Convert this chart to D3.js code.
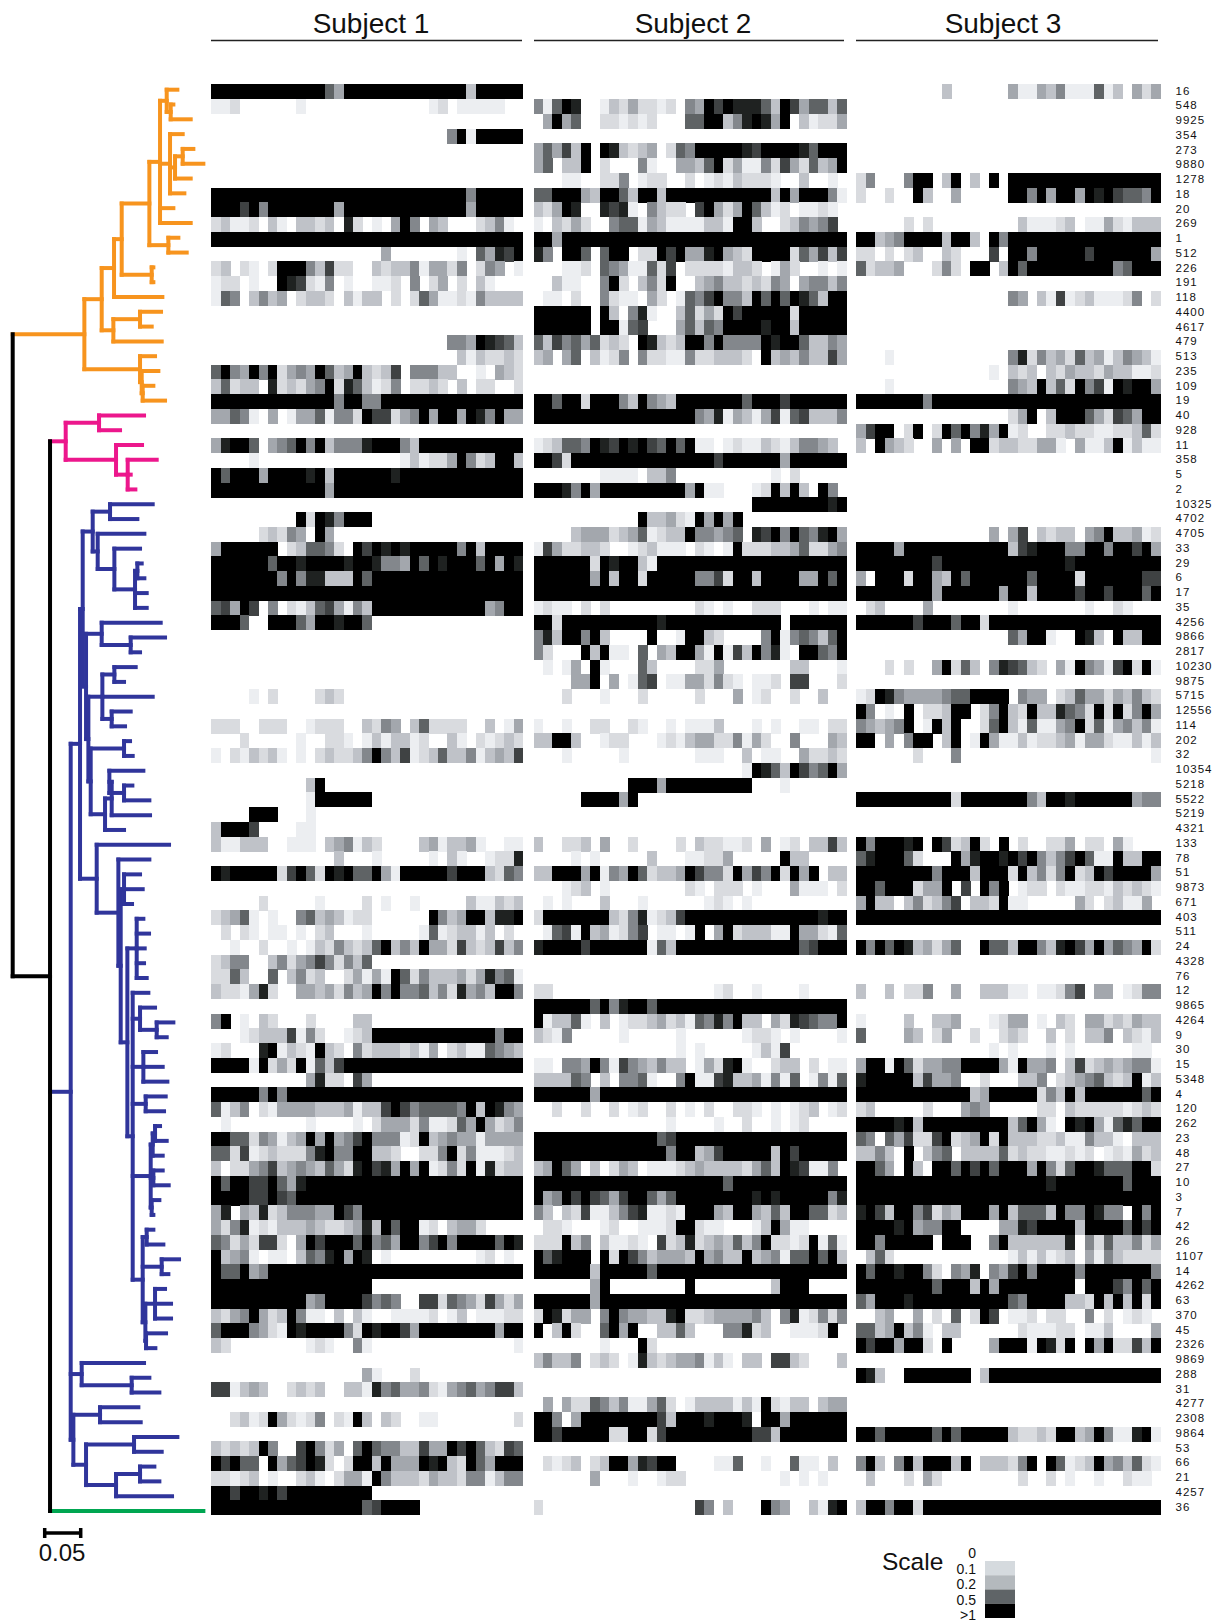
<!DOCTYPE html>
<html>
<head>
<meta charset="utf-8">
<style>
  html, body { margin: 0; padding: 0; background: #fff; }
  svg { display: block; }
  text { font-family: "Liberation Sans", Arial, sans-serif; fill: #111; }
</style>
<script src="https://cdn.jsdelivr.net/npm/d3@7"></script>
</head>
<body>
<svg id="chart" width="1218" height="1623"></svg>
<script>
const rowLabels = ["16","548","9925","354","273","9880","1278","18","20","269","1","512","226","191","118","4400","4617","479","513","235","109","19","40","928","11","358","5","2","10325","4702","4705","33","29","6","17","35","4256","9866","2817","10230","9875","5715","12556","114","202","32","10354","5218","5522","5219","4321","133","78","51","9873","671","403","511","24","4328","76","12","9865","4264","9","30","15","5348","4","120","262","23","48","27","10","3","7","42","26","1107","14","4262","63","370","45","2326","9869","288","31","4277","2308","9864","53","66","21","4257","36"];

// one string per row, one digit per cell: 0 = nothing ... 9 = >1. trailing zeros left out
const subject1 = [
"999999999999649999999999999399999","112000000100000000000001201111100","","000000000000000000000000059199999","","","",
"999999999999999999999999999599999","999795999999949999999999999499999","231120310332308201049504300023510",
"999999999999999999999999999999999","000000000000000000400000001064879","230210299953722003233514425025401",
"122010098721501001120502402031000","165035340233203133020264112153333","","",
"000000000000000000000000055498763","000000000000000000000000003132232","695495924549634932370555330010432",
"362330823245928631250223203022002","999999999999959955999999999999999","446510401446155297724594994985944","",
"489960456959355589995399999999999","000010000000000000001312249523993","969994999989399999989999999999999",
"999999999999499999999999999999999","","000000000929859990000000000000000","000002325409400000000000000000000",
"499999902366520979898999995939999","999999699899998998554969899969498","999999959588333969999999999999999",
"999999999999999999999999999999999","674970502136741539999999999994599","999600999649989960000000000000000",
"","","","","00001020000232","",
"222002220012220032540362222003014","000200000100221013133120031021232","102132310102322359537123633513437","",
"000000000039","00000000001999999","00009990001","39997000011",
"311333001110345132000034133410011","000000000000030001000001031001228","989999927962989669419999979993265","",
"000002000001000020100100000311323","234610100563431220000009534993889","020210110102300010000016123313020",
"001002001013253236935394427323735","23550035245752536","226300603523002414196253334248561",
"322148200443425349595563528453995","","590103200020000330","000123337152001239999999999999599",
"120008913219320523332314023116543","999919242916379999999999999999999","00000000004822074",
"999995959999999999999999999999999","613502144443334133797566665939854","010000000010000102444251126494235",
"996625413494945795551293454414444","662712322258955993320022592511123","302245734543642897849491252918233",
"969977964899999999999999999999999","999977976999999999999999999999999","480438235554497599999999999999999",
"425812133343223483969912034420000","652427720497999695649957959999698","934510110365894980100000000012010",
"966945999999999999999999999999999","99999999999999999","999999999945999975650077265427424",
"324594239511030310011112013011122","699954219899995298997499999999499","320000000012100510000000000000001",
"","0000000000000000410002","771343002323003318564452145645773","","002312942125021930320011000000002","",
"323239500795240696553374497963276","979660946798202993944498932964999","221230100231024419533324332551355",
"99799897999999999","9999999999999999679999"
];

const subject2 = [
"","516980013242212054979888639746636","049460022121200066993589849031224","",
"464739098323402659999987999986999","460339020005100443692411527426349","000110022501220020121322210030010",
"669994399639939999999999939499951","324980087810532207942496312011210","103242005661431111331993002354570",
"994999999999999999999999999999999","850996069902297944894329999264737","000112065411627022221332014200101",
"003110059203529003453323254045535","011020052110420165795539696986399","999999093058100362429799999299999",
"999999099167000463659999899399999","637564623209832399595555989963354","340460312505221152233320934353374","","",
"996992999539543999999969997999999","999999999999999995481431471673335","",
"123665987989769691101211321355430","997299999999999999979999994999999","0000000111103350000000000102",
"999859499999999949110001293930950","000000000000000000000009999999989","0000000000093342194949",
"000034442346123395545608795965894","174223320012311102101922233462245","999999298993199999999999999999999",
"999999493992999995572993999944969","999999999999999999999999999999999","121102020000000002101002220001011",
"992999999999989999999999990999999","583995930000900199320000591565369","520009391106043994191739581099659",
"010140910006300002240000000330001","000044904016701144252101120770002","0002000100020000020004012002003","",
"100100220021001011130001010011022","339930012200012134422514200500043","000100000100000001110030110042232",
"000000000000000000000019863975694","000000000099949999999990001","00000999949","","",
"300223040020000203221120401203373","00001010000030001122400000933","339994915496233497552947592949033",
"000123010000000021022201000411102","01010003000100000012101","299999993258123799999999999999899",
"016719341257011019049233311944216","899997999999163999999999999967999","","",
"22000000000000000001200100001","999999695899699999999999999999999","913361030122342316585933042876559",
"321500000100000100000012210100001","000000000000000101000001317","110554951754353301428910023302011",
"333365030556100591178334151601516","999999499999999999999999999999999","002002002012002010200221010123012",
"00000000000000100001002001012","999999999999967999999999999999999","999999999999995993479999939799999",
"349640302430111234333324639871150","999999999999999999996999999999999","945979764799646999999998989999958",
"530327113578112199943994363996623","02210001200111299211000139411","222935031121072382343635922129161",
"968999092975344439453393451669693","999999399999699999999999999999999","00000049000000009000000003999",
"999999499999999999999999999999999","298244059544338922344445305812525","903920069490033630005582300111290",
"0000000100092","353350232018323445131033077320003","","",
"040422653511462013333131921330344","995049999999973999899980994999999","997999992299279999999997739999999","",
"02123023994879900001160010061103","0000004000100122000000000010101","","200000000000000007503000954003189"
];

const subject3 = [
"00000000030000004114351116130424","","","","","",
"25000599039030909999999999999999",
"20020093004000009959499498976659","","00000202000000000311123011421333",
"99345999939930959999999999999999","22020230032000709959999979999994","62334000252099039699999999956999","",
"00000000000000005403171231112502","","","","00010000000000005825342634135431",
"00000000000000103230324332433112","00010000000000005439362957198994","99999995999999999999999999999999",
"00000000000000002490399964276499","47990290296958491200223221122362","30943200404099233224410411391311",
"","","","","","00000000000000404703233045933412",
"99994999999999993789995599599794","99999999799999999999998999999999","40999299439699999969999299999977",
"99999999499999949939999799799969","02300004000000001000000010021","99999979996992999999999999999999",
"00000000000000006499100983093399","","00020200492630587632041954179291","",
"12985444456699990544023644243532","95010902239902593293386529292594","54345901939002693161145926145351",
"99040599039019411312234144211313","00000020005000000000000000000001","","",
"99999999992999999953998999999455","","",
"95999890972392090200224022041","68999620009489989795357961193399","99999999599939992935259239799994",
"99699924490709590122021122132321","49330352357033291100000420231140","99999999999999999999999999999999","",
"95969834246009663995389749465492","","","30030225004003331101125704401255","",
"10000300334000124401032044232433","60000430240020023200302033503213","0000000000000010100010100000011",
"49919624455999941944503723434551","89999937445002000335023456323913","99999999999934999992539399999969",
"23000002000454000002203222221232","99998939999999993694109894168699","65064722792349293332231153310333",
"33530903560333362322112120121423","99640930996979699949526998666992","99999999999999999999899999996999",
"99999999999999999999999999999999","89739957243999493666395598550959","99998945599000044879999399996979",
"99599999099900593333338052633524","03620000000000001313123041532222","96998995205480547959999599999995",
"99999999699939499999999099975969","64999899999999996599993329393929","0034004020602970112022005020121",
"66349351033000000211122011300004","97994992090000499919829094922739","",
"98300999999903999999999999999999","","","","99699999696999993223299349511891","",
"59305939993903332590961239453621","0300020420000000020020100100211","","39959929999999999999999999999999"
];

const subjectTitles = ["Subject 1", "Subject 2", "Subject 3"];
const subjectColumns = [33, 33, 32];
const levelGrays = ["#ffffff","#eceef1","#d9dbdf","#bfc2c8","#a3a7ad","#83878c","#5f6365","#3f4243","#1f2221","#000000"];

const legendLabels = ["0", "0.1", "0.2", "0.5", ">1"];
const legendColors = ["#d5dade", "#b4b9bd", "#5f6467", "#000000"];

// tree: a tip is its distance from the root, an inner node is [distance, ...children]. 108 units = 0.05
const orangeClade = [215,
  [267,
    [304,
      [327,
        [410,
          [442,
            [462, 494, [474, 482, 534]],
            [472, 510, [487, [510, 542, 572], 534], 515],
            482, 534],
          [467, 497, 522]],
        [417, 422, 422]],
      449],
    [302, [382, 445, 417], 447]],
  [382, 427, [387, 437, [390, 422, 457]]]];

const pinkClade = [159, [259, 394, 322], [310, 388, [345, 432, 354, 368]]];

const blueClade = [174,
  [202,
    [210,
      [240, [292, 420, 374], [255, 395, [305, 382, [367, [374, 387, 395], 402, 402]]]],
      [220,
        [267, 444, [354, 457, 382]],
        [227,
          [269, [305, 369, 334], 420, [297, 354, 337]],
          [234,
            [334, 352, 360],
            [277, [297, [290, 392, [334, 359, 410]], 412], 334]]]]],
    [252, 469,
      [317, 410,
        [324,
          [334, 382, 390, 358],
          [344,
            [372, 392, 409, 396, 394, 402],
            [360, 407,
              [382, 427, [432, 482, 462]],
              [392, 430, 450, 464],
              [399, 459, 454],
              [414, [420, [427, 442, 462], 450], [422, 450, 468], [417, 440, 422]],
              [390, [402, 422, 452], [447, 499, 467],
                [398, [427, 457, 475, 475], [400, 460, 428]]]]]]]]],
  [207, 394, [357, 410, 440]],
  [182, [262, 377, 384], [220, [364, 494, 447], [310, [382, 425, 440], 478]]]];

const greenTip = 572;
const treeRoot = [0, orangeClade, [112, pinkClade, blueClade, greenTip]];
const scaleBarUnits = 108;
const scaleBarLabel = "0.05";

const svg = d3.select("#chart");
svg.append("rect").attr("width", 1218).attr("height", 1623).attr("fill", "#fff");

const panelRanges = [[211.3, 523], [533.5, 846.7], [856, 1160.7]];
const titleCenters = [371, 693, 1003];
const ruleRanges = [[211, 522], [534, 844], [856, 1158]];

const y = d3.scaleBand().domain(rowLabels).range([84.3, 1515]);
const gray = d3.scaleOrdinal().domain(d3.range(10)).range(levelGrays);

[subject1, subject2, subject3].forEach((rows, p) => {
  const x = d3.scaleBand().domain(d3.range(subjectColumns[p])).range(panelRanges[p]);
  const cells = [];
  rows.forEach((row, r) => {
    x.domain().forEach((c) => {
      const level = +(row[c] || 0);
      if (level > 0) cells.push({ label: rowLabels[r], c, level });
    });
  });

  svg.append("g")
    .attr("shape-rendering", "crispEdges")
    .selectAll("rect")
    .data(cells)
    .enter()
    .append("rect")
    .attr("x", (d) => x(d.c))
    .attr("y", (d) => y(d.label))
    .attr("width", x.bandwidth() + 0.4)
    .attr("height", y.bandwidth() + 0.4)
    .attr("fill", (d) => gray(d.level));

  svg.append("text")
    .attr("x", titleCenters[p])
    .attr("y", 32.7)
    .attr("text-anchor", "middle")
    .attr("font-size", 28)
    .text(subjectTitles[p]);

  svg.append("line")
    .attr("x1", ruleRanges[p][0])
    .attr("x2", ruleRanges[p][1])
    .attr("y1", 40.5)
    .attr("y2", 40.5)
    .attr("stroke", "#222")
    .attr("stroke-width", 1.6);
});

// row labels
svg.append("g")
  .selectAll("text")
  .data(rowLabels)
  .enter()
  .append("text")
  .attr("x", 1175.5)
  .attr("y", (d) => y(d) + y.bandwidth() / 2 + 3)
  .attr("font-size", 11.5)
  .attr("letter-spacing", 1)
  .attr("fill", "#222")
  .text((d) => d);

// tree
const treeX = d3.scaleLinear().domain([0, scaleBarUnits]).range([12.7, 48.7]);
const tipY = d3.scaleLinear().domain([0, 96]).range([89.7, 1511]);

const root = d3.hierarchy(treeRoot, (d) => (Array.isArray(d) ? d.slice(1) : null));
const depthOf = (n) => (Array.isArray(n.data) ? n.data[0] : n.data);

let tipIndex = 0;
root.eachAfter((n) => {
  if (!n.children) {
    n.rowY = tipY(tipIndex++);
  } else {
    n.rowY = (n.children[0].rowY + n.children[n.children.length - 1].rowY) / 2;
  }
});

const cladeColor = new Map([
  [orangeClade, "#f7941e"],
  [pinkClade, "#ec178c"],
  [blueClade, "#30359b"],
]);
root.each((n) => {
  n.color = cladeColor.get(n.data) || (n.parent && n.parent.color) || "#000";
});
root.children[1].children[2].color = "#00a651"; // the single green tip

const treeG = svg.append("g")
  .attr("fill", "none")
  .attr("stroke-width", 4)
  .attr("stroke-linecap", "square");

treeG.selectAll("path.h")
  .data(root.descendants().slice(1))
  .enter()
  .append("path")
  .attr("class", "h")
  .attr("stroke", (d) => d.color)
  .attr("d", (d) => `M${treeX(depthOf(d.parent))},${d.rowY}H${treeX(depthOf(d))}`);

treeG.selectAll("path.v")
  .data(root.descendants().filter((d) => d.children))
  .enter()
  .append("path")
  .attr("class", "v")
  .attr("stroke", (d) => d.color)
  .attr("d", (d) => `M${treeX(depthOf(d))},${d.children[0].rowY}V${d.children[d.children.length - 1].rowY}`);

// scale bar
const barY = 1533;
const barG = svg.append("g").attr("stroke", "#000").attr("stroke-width", 3.5);
barG.append("line")
  .attr("x1", treeX(0) + 32).attr("x2", treeX(scaleBarUnits) + 32)
  .attr("y1", barY).attr("y2", barY);
[0, scaleBarUnits].forEach((u) => {
  barG.append("line")
    .attr("x1", treeX(u) + 32).attr("x2", treeX(u) + 32)
    .attr("y1", barY - 5).attr("y2", barY + 5);
});
svg.append("text")
  .attr("x", 62)
  .attr("y", 1561)
  .attr("text-anchor", "middle")
  .attr("font-size", 24)
  .text(scaleBarLabel);

// legend
svg.append("text").attr("x", 882).attr("y", 1570).attr("font-size", 24.5).text("Scale");

const legendY = d3.scaleBand().domain(legendColors).range([1561, 1618]);
svg.append("g")
  .selectAll("rect")
  .data(legendColors)
  .enter()
  .append("rect")
  .attr("x", 985)
  .attr("y", (d) => legendY(d))
  .attr("width", 30)
  .attr("height", legendY.bandwidth())
  .attr("fill", (d) => d);

const legendTextY = d3.scalePoint().domain(legendLabels).range([1558, 1620]);
svg.append("g")
  .selectAll("text")
  .data(legendLabels)
  .enter()
  .append("text")
  .attr("x", 976)
  .attr("y", (d) => legendTextY(d))
  .attr("text-anchor", "end")
  .attr("font-size", 14)
  .text((d) => d);
</script>
</body>
</html>
